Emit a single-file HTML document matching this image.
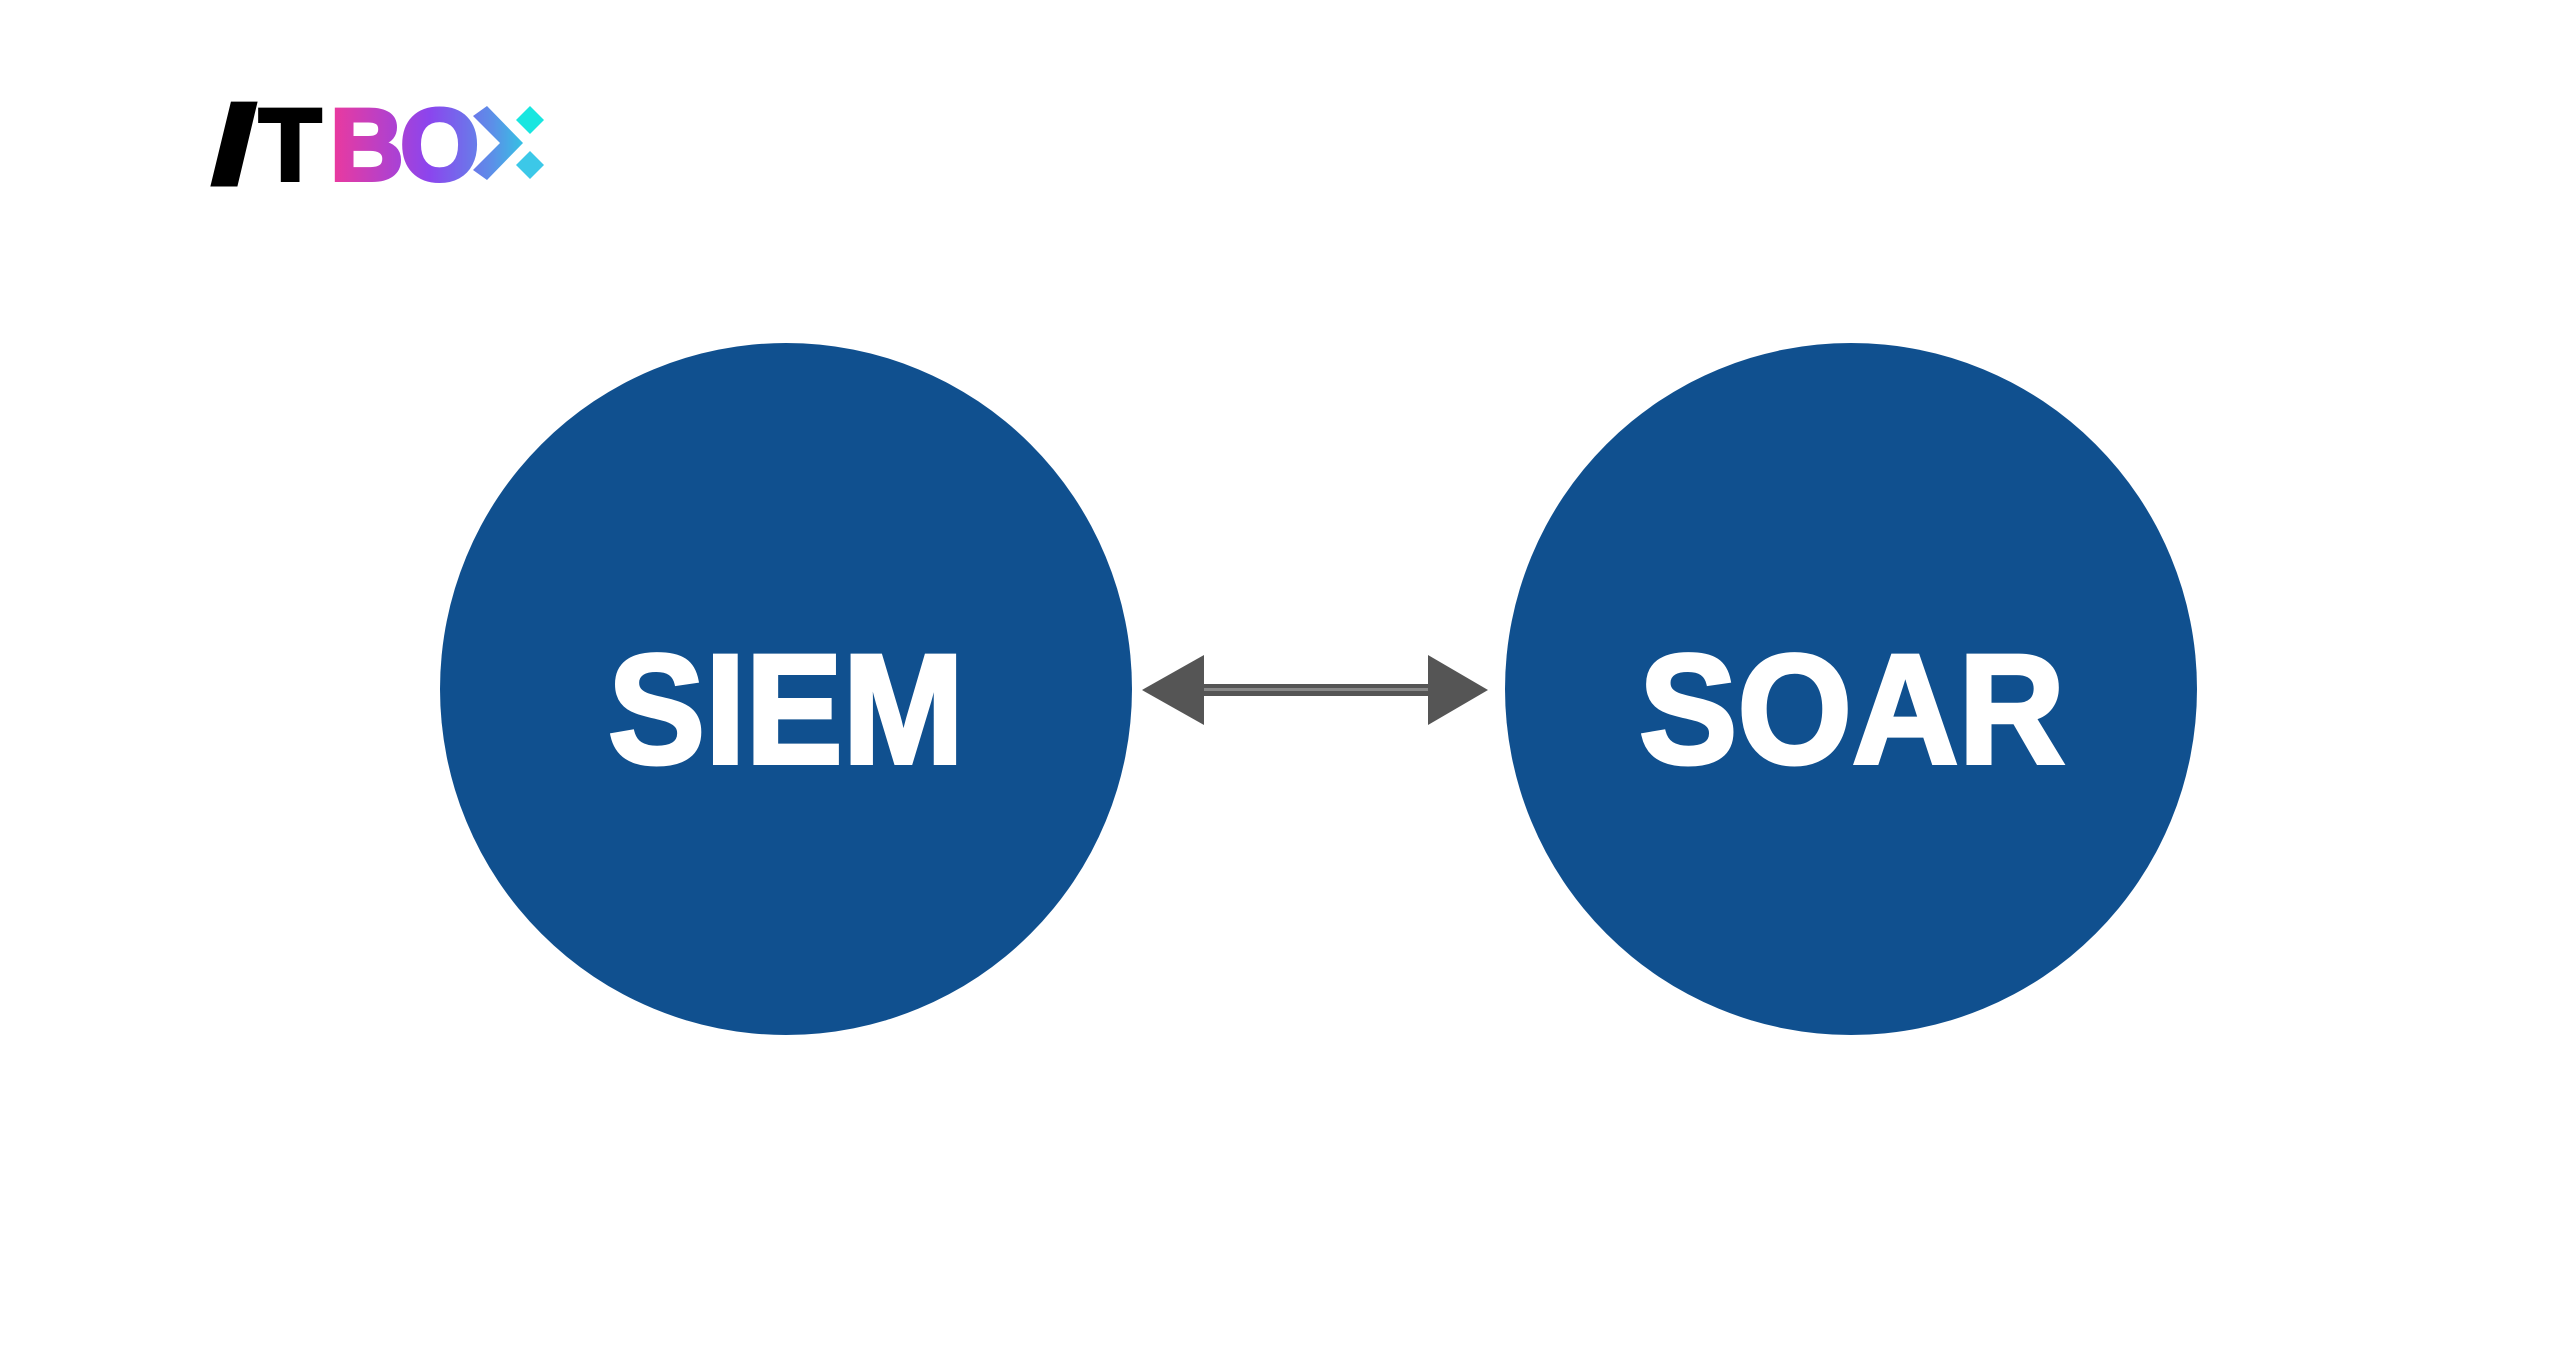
<!DOCTYPE html>
<html><head><meta charset="utf-8"><style>
html,body{margin:0;padding:0;background:#fff;}
body{width:2560px;height:1366px;overflow:hidden;position:relative;}
</style></head><body>
<svg width="2560" height="1366" viewBox="0 0 2560 1366" xmlns="http://www.w3.org/2000/svg" style="position:absolute;left:0;top:0">
<defs>
<linearGradient id="g" x1="335" y1="0" x2="545" y2="0" gradientUnits="userSpaceOnUse">
<stop offset="0" stop-color="#e83aa0"/><stop offset="0.45" stop-color="#8b45ee"/><stop offset="0.75" stop-color="#5c8fe8"/><stop offset="1" stop-color="#19e6e0"/>
</linearGradient>
<clipPath id="c"><rect x="0" y="0" width="2197" height="1366"/></clipPath>
</defs>
<g font-family="Liberation Sans, sans-serif" font-weight="bold" font-size="102">
<text x="216" y="180" fill="#000" stroke="#000" stroke-width="9" textLength="36" lengthAdjust="spacingAndGlyphs">/</text>
<text x="259" y="180" fill="#000" stroke="#000" stroke-width="4">T</text>
<text x="330" y="180" fill="url(#g)" stroke="url(#g)" stroke-width="4">B</text>
<text x="400" y="180" fill="url(#g)" stroke="url(#g)" stroke-width="4">O</text>
</g>
<polygon points="473,116 487,106 523,143 487,180 473,170 500,143" fill="url(#g)"/>
<polygon points="530,106 544,120 530,134 516,120" fill="#19e6e0"/>
<polygon points="530,151 544,165 530,179 516,165" fill="#3cc8e8"/>
<g clip-path="url(#c)">
<circle cx="786" cy="689" r="346" fill="#10508f"/>
<circle cx="1851" cy="689" r="346" fill="#10508f"/>
</g>
<g font-family="Liberation Sans, sans-serif" font-weight="bold" font-size="156" fill="#fff" stroke="#fff" stroke-width="4" text-anchor="middle">
<text x="786" y="763" textLength="356" lengthAdjust="spacingAndGlyphs">SIEM</text>
<text x="1852" y="763" textLength="426" lengthAdjust="spacingAndGlyphs">SOAR</text>
</g>
<rect x="1200" y="684" width="236" height="12" fill="#555"/>
<rect x="1200" y="688" width="236" height="3" fill="#888"/>
<polygon points="1142,690 1204,655 1204,725" fill="#555"/>
<polygon points="1488,690 1428,655 1428,725" fill="#555"/>
</svg>
</body></html>
